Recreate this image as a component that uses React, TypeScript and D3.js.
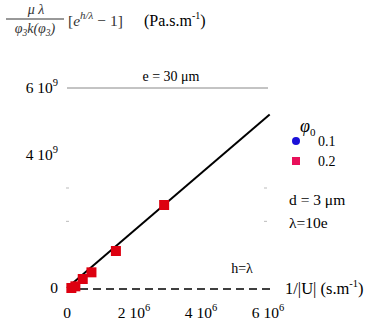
import React from 'react';
import * as d3 from 'd3';

// tick labels (mantissa, exponent)
const xTicks = [0, 2e6, 4e6, 6e6];
const yTicks = [0, 4e9, 6e9];
const yMinorTicks = [2e9, 3e9];

// phi_0 = 0.2 points (1/|U| , value)
const phi02X = [2.9e6, 1.46e6, 0.73e6, 0.47e6, 0.25e6, 0.13e6];
const phi02Y = [2.49e9, 1.11e9, 0.47e9, 0.27e9, 0.05e9, 0.0];
// phi_0 = 0.1 points are hidden behind 0.2 ones
const phi01X: number[] = [];
const phi01Y: number[] = [];

// theory line
const lineX = [0, 6.05e6];
const slope = 860;

const ff = { fontFamily: "'Liberation Serif'" };

function App() {
  const x = d3.scaleLinear().domain([0, 6e6]).range([67, 268]);
  const y = d3.scaleLinear().domain([0, 6e9]).range([288, 88]);

  const line = d3.line<number>()
    .x(d => x(d))
    .y(d => y(d * slope));

  const fmt = (v: number) => {
    if (v === 0) return { m: '0', e: '' };
    const e = Math.floor(Math.log10(v));
    return { m: String(Math.round(v / Math.pow(10, e))), e: String(e) };
  };

  return (
    <svg width={375} height={327} style={{ position: 'absolute', left: 0, top: 0 }}>
      {/* title */}
      <g fill="#333">
        <text x={36} y={14} fontSize={14} fontStyle="italic" textAnchor="middle" style={ff}>μ λ</text>
        <line x1={6} x2={64} y1={19} y2={19} stroke="#333" strokeWidth={1} />
        <text x={35} y={33} fontSize={14} fontStyle="italic" textAnchor="middle" style={ff}>
          φ<tspan fontSize={9.5} dy={3}>3</tspan><tspan dy={-3}>k(φ</tspan><tspan fontSize={9.5} dy={3}>3</tspan><tspan dy={-3}>)</tspan>
        </text>
        <text x={68} y={26} fontSize={15.5} style={ff}>
          [<tspan fontStyle="italic">e</tspan><tspan fontSize={11} dy={-7} fontStyle="italic">h/λ</tspan><tspan dy={7}> − 1]</tspan>
        </text>
      </g>
      <text x={144} y={26} fontSize={16} fill="#000" style={ff}>
        (Pa.s.m<tspan fontSize={10} dy={-7}>-1</tspan><tspan dy={7}>)</tspan>
      </text>

      {/* e = 30 um reference line */}
      <line x1={x(0)} x2={x(6e6)} y1={y(6e9)} y2={y(6e9)} stroke="#888" strokeWidth={1} />
      <text x={171} y={81} fontSize={14} textAnchor="middle" style={ff}>e = 30 μm</text>

      {/* y tick labels */}
      {yTicks.map(t => {
        const f = fmt(t);
        return (
          <text key={t} x={58} y={y(t) + 5} fontSize={15.5} textAnchor="end" style={ff}>
            {f.m}{f.e && <tspan> 10</tspan>}{f.e && <tspan fontSize={10.5} dy={-7}>{f.e}</tspan>}
          </text>
        );
      })}
      {yMinorTicks.map(t => (
        <g key={t} stroke="#bbb">
          <line x1={66} x2={69} y1={y(t)} y2={y(t)} />
          <line x1={264} x2={267} y1={y(t)} y2={y(t)} />
        </g>
      ))}

      {/* x tick labels */}
      {xTicks.map(t => {
        const f = fmt(t);
        return (
          <text key={t} x={x(t)} y={318} fontSize={15.5} textAnchor="middle" style={ff}>
            {f.m}{f.e && <tspan> 10</tspan>}{f.e && <tspan fontSize={10.5} dy={-7}>{f.e}</tspan>}
          </text>
        );
      })}

      {/* h = lambda dashed line */}
      <line x1={x(0)} x2={x(6.1e6)} y1={y(0) + 1} y2={y(0) + 1} stroke="#000" strokeWidth={1.3} strokeDasharray="8,5" />
      <text x={242} y={273} fontSize={14} textAnchor="middle" style={ff}>h=λ</text>
      <text x={285} y={294} fontSize={16.5} style={ff}>
        1/|U| (s.m<tspan fontSize={10.5} dy={-7}>-1</tspan><tspan dy={7}>)</tspan>
      </text>

      {/* theory line */}
      <path d={line(lineX) || ''} fill="none" stroke="#000" strokeWidth={2} />

      {/* points */}
      {phi01X.map((v, i) => (
        <circle key={'b' + i} cx={x(v)} cy={y(phi01Y[i])} r={4.5} fill="#1a10d8" />
      ))}
      {phi02X.map((v, i) => (
        <rect key={'r' + i} x={x(v) - 5} y={y(phi02Y[i]) - 5} width={10} height={10} fill="#dd0010" />
      ))}

      {/* legend */}
      <text x={300} y={132} fontSize={18} fontStyle="italic" style={ff}>
        φ<tspan fontSize={11} dy={4} fontStyle="normal">0</tspan>
      </text>
      <circle cx={296} cy={141} r={4} fill="#1a10d8" />
      <text x={318} y={146} fontSize={14} style={ff}>0.1</text>
      <rect x={292} y={157} width={8} height={8} fill="#e8105a" />
      <text x={318} y={166} fontSize={14} style={ff}>0.2</text>

      <text x={289} y={205} fontSize={15.5} style={ff}>d = 3 μm</text>
      <text x={289} y={228} fontSize={15.5} style={ff}>λ=10e</text>
    </svg>
  );
}

export default App;
